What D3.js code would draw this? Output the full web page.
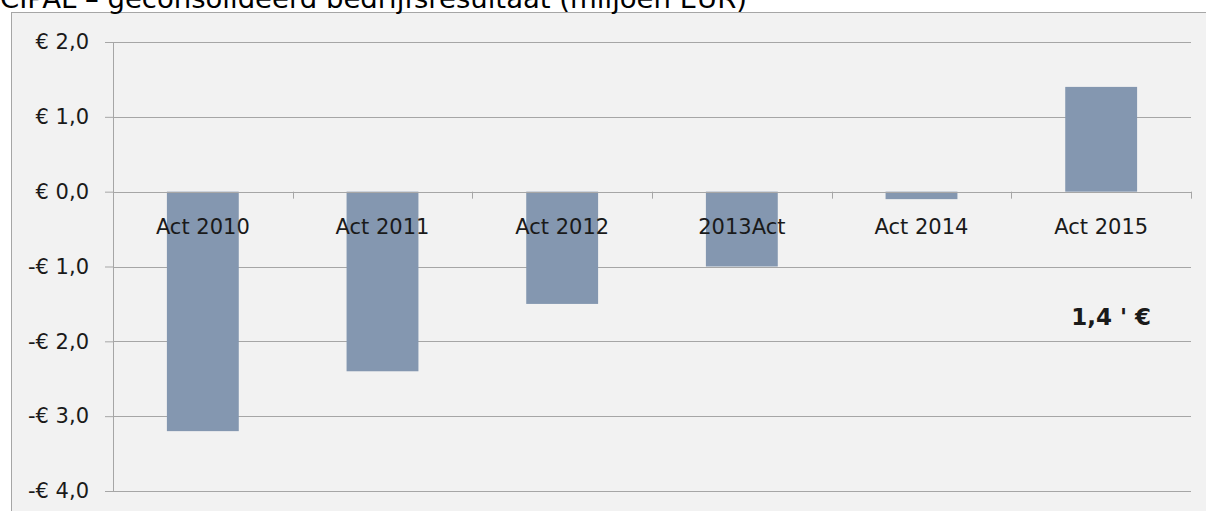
<!DOCTYPE html>
<html>
<head>
<meta charset="utf-8">
<script src="https://cdn.jsdelivr.net/npm/d3@7"></script>
<style>
  html, body { margin: 0; padding: 0; background: #fff; overflow: hidden; }
  svg { display: block; font-family: "DejaVu Sans", Verdana, sans-serif; }
</style>
</head>
<body>
<div id="chart"></div>
<script>
const categories = ['Act 2010', 'Act 2011', 'Act 2012', '2013Act', 'Act 2014', 'Act 2015'];
const values = [-3.2, -2.4, -1.5, -1.0, -0.1, 1.4];
const yTicks = [-4, -3, -2, -1, 0, 1, 2];
const titleText = 'CIPAL – geconsolideerd bedrijfsresultaat (miljoen EUR)';
const noteText = "1,4 ' €";

const width = 1206;
const height = 511;

const svg = d3.select('#chart')
    .append('svg')
    .attr('width', width)
    .attr('height', height)
    .attr('viewBox', [0, 0, width, height]);

// chart frame
svg.append('rect')
    .attr('x', 11.5)
    .attr('y', 12.5)
    .attr('width', width + 10)
    .attr('height', height + 10)
    .attr('fill', '#f2f2f2')
    .attr('stroke', '#a6a6a6');

svg.append('text')
    .attr('x', 0)
    .attr('y', 8)
    .style('font-size', '27px')
    .attr('textLength', 747)
    .attr('lengthAdjust', 'spacingAndGlyphs')
    .attr('fill', '#000')
    .text(titleText);

const x = d3.scaleBand()
    .domain(categories)
    .range([113, 1191])
    .paddingInner(0.6)
    .paddingOuter(0.3);

const y = d3.scaleLinear()
    .domain([-4, 2])
    .range([491, 42]);

const fmt = v => (v < 0 ? '-€ ' : '€ ') + Math.abs(v).toFixed(1).replace('.', ',');

// y axis + labels
const yAxis = svg.append('g')
    .attr('transform', 'translate(113,0)')
    .call(d3.axisLeft(y).tickValues(yTicks).tickSize(8).tickPadding(16).tickFormat(fmt));
yAxis.select('.domain').attr('stroke', '#a6a6a6');
yAxis.selectAll('.tick line').attr('stroke', '#a6a6a6');
yAxis.selectAll('.tick text')
    .style('font-size', '21px')
    .style('font-family', '"DejaVu Sans", Verdana, sans-serif')
    .attr('fill', '#1a1a1a');

// gridlines
svg.append('g')
    .selectAll('line')
    .data(yTicks.filter(d => d !== 0))
    .join('line')
    .attr('x1', 113)
    .attr('x2', 1191)
    .attr('y1', d => Math.round(y(d)) + 0.5)
    .attr('y2', d => Math.round(y(d)) + 0.5)
    .attr('stroke', '#a6a6a6');

// bars
svg.append('g')
    .selectAll('rect')
    .data(values)
    .join('rect')
    .attr('x', (d, i) => x(categories[i]))
    .attr('width', x.bandwidth())
    .attr('y', d => y(Math.max(0, d)))
    .attr('height', d => Math.abs(y(d) - y(0)))
    .attr('fill', '#8497b0');

// x axis at zero, ticks on band boundaries
const bounds = d3.range(categories.length + 1).map(i => 113 + i * (1191 - 113) / categories.length);
svg.append('line')
    .attr('x1', 113)
    .attr('x2', 1191)
    .attr('y1', Math.round(y(0)) + 0.5)
    .attr('y2', Math.round(y(0)) + 0.5)
    .attr('stroke', '#a6a6a6');
svg.append('g')
    .selectAll('line')
    .data(bounds)
    .join('line')
    .attr('x1', d => Math.round(d) + 0.5)
    .attr('x2', d => Math.round(d) + 0.5)
    .attr('y1', y(0))
    .attr('y2', y(0) + 7)
    .attr('stroke', '#a6a6a6');

svg.append('g')
    .selectAll('text')
    .data(categories)
    .join('text')
    .attr('x', d => x(d) + x.bandwidth() / 2)
    .attr('y', y(0) + 42)
    .attr('text-anchor', 'middle')
    .style('font-size', '21px')
    .attr('fill', '#1a1a1a')
    .text(d => d);

// annotation
svg.append('text')
    .attr('x', x('Act 2015') + x.bandwidth() / 2 + 10)
    .attr('y', y(-1.78))
    .attr('text-anchor', 'middle')
    .style('font-size', '23px')
    .style('font-weight', 'bold')
    .attr('fill', '#1a1a1a')
    .text(noteText);
</script>
</body>
</html>
